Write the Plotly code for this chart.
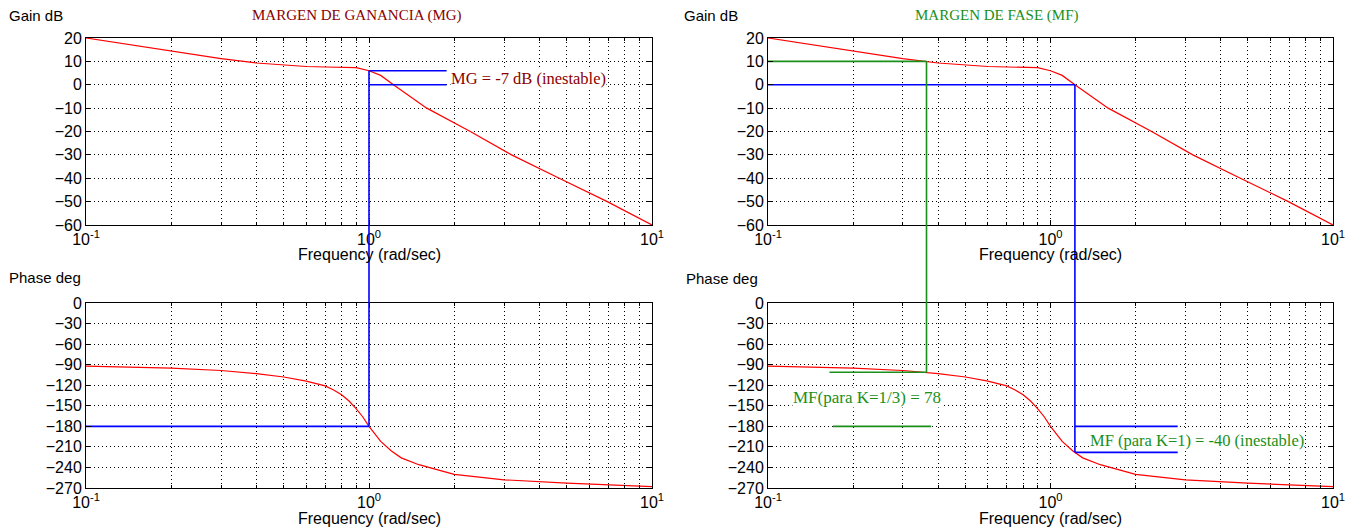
import numpy as np
import plotly.graph_objects as go
from plotly.subplots import make_subplots

# ---------------- data ----------------
freq_gain = [0.1, 0.2, 0.3, 0.4, 0.5, 0.6, 0.7, 0.8, 0.9, 1.0, 1.1, 1.22, 1.6, 2.28, 3.19, 4.7, 6.95, 10]
gain_db = [20, 14.3, 11.2, 9.3, 8.4, 7.8, 7.6, 7.5, 7.3, 6, 4, 0, -10, -20, -30, -40, -50, -60]

freq_phase = [0.1, 0.2, 0.3, 0.4, 0.5, 0.6, 0.7, 0.75, 0.8, 0.85, 0.9, 0.95, 1.0, 1.05, 1.1, 1.2, 1.3, 1.5, 2, 3, 5, 10]
phase_deg = [-92, -95, -98.5, -103, -108, -114, -121, -127, -134, -143, -154, -166, -180, -192,
             -202, -216, -226, -236, -250, -258, -263, -268]

gain_ticks = [20, 10, 0, -10, -20, -30, -40, -50, -60]
phase_ticks = [0, -30, -60, -90, -120, -150, -180, -210, -240, -270]
freq_ticks = [0.1, 1, 10]
freq_ticktext = ["10<sup>-1</sup>", "10<sup>0</sup>", "10<sup>1</sup>"]
freq_minor = [0.2, 0.3, 0.4, 0.5, 0.6, 0.7, 0.8, 0.9, 2, 3, 4, 5, 6, 7, 8, 9]

# margin markings
mg_freq = 1.0            # phase crossover (left)
mg_gain = 6              # gain at phase crossover
mg_line_end = 1.88
mf13_freq = 0.364        # gain crossover for K=1/3
mf13_gain = 10
mf13_phase = -101
mf1_freq = 1.22          # gain crossover for K=1
mf1_phase = -218
mf1_line_end = 2.82

RED = "#ff0000"
BLUE = "#0000ff"
GREEN = "#1a901a"
DARKRED = "#8a0000"

W, H = 1359, 529
# plot areas in pixels
L_x = (86, 652)
R_x = (768, 1333)
T_y = (38, 225)
B_y = (303, 488)

def xdom(px):
    return [px[0] / W, px[1] / W]

def ydom(py):
    return [1 - py[1] / H, 1 - py[0] / H]

fig = make_subplots(rows=2, cols=2)

def line(x, y, color, row, col, width=1.2):
    fig.add_trace(go.Scatter(x=x, y=y, mode="lines", line=dict(color=color, width=width),
                             showlegend=False, hoverinfo="skip"), row=row, col=col)

for col in (1, 2):
    line(freq_gain, gain_db, RED, 1, col, 1.2)
    line(freq_phase, phase_deg, RED, 2, col, 1.2)

# left: gain margin
line([mg_freq, mg_line_end], [mg_gain, mg_gain], BLUE, 1, 1, 1.6)
line([mg_freq, mg_line_end], [0, 0], BLUE, 1, 1, 1.6)
line([0.1, mg_freq], [-180, -180], BLUE, 2, 1, 1.6)

# right: phase margin
line([0.1, mf13_freq], [mf13_gain, mf13_gain], GREEN, 1, 2, 1.6)
line([0.1, mf1_freq], [0, 0], BLUE, 1, 2, 1.6)
line([0.165, mf13_freq], [mf13_phase, mf13_phase], GREEN, 2, 2, 1.6)
line([0.17, 0.378], [-180, -180], GREEN, 2, 2, 1.6)
line([mf1_freq, mf1_line_end], [-180, -180], BLUE, 2, 2, 1.6)
line([mf1_freq, mf1_line_end], [mf1_phase, mf1_phase], BLUE, 2, 2, 1.6)

GAIN_RANGE = (-60, 20)
PHASE_RANGE = (-270, 0)

def paper_y(val, rng, dom):
    return dom[0] + (val - rng[0]) / (rng[1] - rng[0]) * (dom[1] - dom[0])

shapes = []
def vline(xref, f, g, p, color):
    y0 = paper_y(g, GAIN_RANGE, ydom(T_y))
    y1 = paper_y(p, PHASE_RANGE, ydom(B_y))
    shapes.append(dict(type="line", xref=xref, yref="paper", x0=f, x1=f, y0=y0, y1=y1,
                       line=dict(color=color, width=1.6), layer="above"))

vline("x", mg_freq, mg_gain, -180, BLUE)
vline("x2", mf13_freq, mf13_gain, mf13_phase, GREEN)
vline("x2", mf1_freq, 0, mf1_phase, BLUE)

sans = "Liberation Sans Narrow, Arial Narrow, Liberation Sans, Arial, sans-serif"
tick_font = dict(family=sans, size=16, color="black")
grid = dict(showgrid=True, gridcolor="black", gridwidth=1, griddash="1px,3px")

xaxis_common = dict(type="log", range=[-1, 1], tickvals=freq_ticks, ticktext=freq_ticktext,
                    ticks="inside", ticklen=5, tickcolor="black", showline=True, linecolor="black",
                    linewidth=1, mirror="allticks", tickfont=tick_font, zeroline=False,
                    automargin=False, ticklabelstandoff=0,
                    minor=dict(tickvals=freq_minor, ticks="inside", ticklen=3, tickcolor="black",
                               showgrid=True, gridcolor="black", gridwidth=1, griddash="1px,3px"),
                    **grid)

def yaxis_common(rng, ticks):
    return dict(range=list(rng), tickvals=ticks, ticks="inside", ticklen=5, tickcolor="black",
                showline=True, linecolor="black", linewidth=1, mirror="allticks", tickfont=tick_font,
                zeroline=False, automargin=False, **grid)

layout_axes = {}
for name, xd, yd in (("", L_x, T_y), ("2", R_x, T_y), ("3", L_x, B_y), ("4", R_x, B_y)):
    layout_axes["xaxis" + name] = dict(xaxis_common, domain=xdom(xd))
    if yd == T_y:
        layout_axes["yaxis" + name] = dict(yaxis_common(GAIN_RANGE, gain_ticks), domain=ydom(yd))
    else:
        layout_axes["yaxis" + name] = dict(yaxis_common(PHASE_RANGE, phase_ticks), domain=ydom(yd))

fig.update_layout(**layout_axes)

serif = "Liberation Serif, Times New Roman, serif"
ann = []
def ptext(text, px, py, color="black", family="Liberation Sans, Arial, sans-serif", size=15, anchor="left"):
    ann.append(dict(text=text, xref="paper", yref="paper", x=px / W, y=1 - py / H,
                    xanchor=anchor, yanchor="middle", showarrow=False,
                    font=dict(family=family, size=size, color=color)))

ptext("Gain dB", 7, 15)
ptext("Phase deg", 7, 277)
ptext("Gain dB", 682, 15)
ptext("Phase deg", 684, 278)
ptext("Frequency (rad/sec)", (L_x[0] + L_x[1]) / 2, 255, size=16, anchor="center")
ptext("Frequency (rad/sec)", (R_x[0] + R_x[1]) / 2, 255, size=16, anchor="center")
ptext("Frequency (rad/sec)", (L_x[0] + L_x[1]) / 2, 518, size=16, anchor="center")
ptext("Frequency (rad/sec)", (R_x[0] + R_x[1]) / 2, 518, size=16, anchor="center")
ptext("MARGEN DE GANANCIA (MG)", 357, 16, DARKRED, serif, 15, "center")
ptext("MARGEN DE FASE (MF)", 996, 16, GREEN, serif, 15, "center")

def dtext(text, xref, yref, f, v, color, anchor, size):
    ann.append(dict(text=text, xref=xref, yref=yref, x=np.log10(f), y=v, xanchor=anchor,
                    yanchor="middle", showarrow=False, bgcolor="white", borderpad=0,
                    font=dict(family=serif, size=size, color=color)))

dtext("MG = -7 dB (inestable)", "x", "y", 1.93, 2.8, DARKRED, "left", 16.5)
dtext("MF(para K=1/3) = 78", "x4", "y4", 0.225, -138, GREEN, "center", 17)
dtext("MF (para K=1) = -40 (inestable)", "x4", "y4", 1.37, -201, GREEN, "left", 16.5)

fig.update_layout(width=W, height=H, margin=dict(l=0, r=0, t=0, b=0, autoexpand=False),
                  paper_bgcolor="white", plot_bgcolor="white",
                  annotations=ann, shapes=shapes, showlegend=False)

fig.write_html("out.html", config={"displayModeBar": False},
               post_script="document.body.style.margin='0';document.body.style.overflow='hidden';")
